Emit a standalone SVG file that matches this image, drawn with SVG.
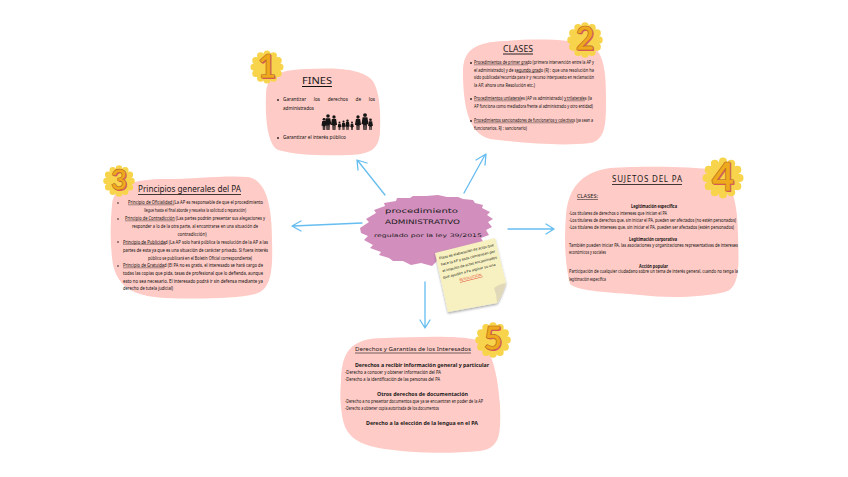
<svg xmlns="http://www.w3.org/2000/svg" width="848" height="477" viewBox="0 0 848 477">
<style>
.blob{fill:#ffcbc6}
.t{font-family:"Noto Sans","Liberation Sans",sans-serif;font-size:4.400px;fill:#111}
.b{font-weight:700}
.ul{stroke:#111;stroke-width:.4;fill:none}
.h{font-family:"Noto Sans","Liberation Sans",sans-serif;fill:#1a1a1a}
.m{text-anchor:middle}
.dot{fill:#1c1c1c}
.sc{fill:#f7d44c;stroke:#f7d44c;stroke-linecap:round}
.n{font-family:"Lato","Liberation Sans",sans-serif;font-weight:900;text-anchor:middle}
.n1{fill:#e2566b}
.n2{fill:#eeaa1c;stroke:#b8642a;stroke-width:.6px}
.c{font-family:"DejaVu Sans",sans-serif;fill:#1a1a1a}
.arr{fill:none;stroke:#66bdf0;stroke-width:1.300;stroke-linecap:round;stroke-linejoin:round}
.fam{fill:#151515}
</style>
<defs>
<filter id="sh" x="-10%" y="-10%" width="125%" height="125%"><feDropShadow dx="0" dy="1.500" stdDeviation="1" flood-color="#000" flood-opacity=".35"/></filter>
<g id="p"><circle cx="0" cy="-9.300" r="1.200"/><path d="M-1.500-7.900H1.500L2.200-3.600H1.200L1 0H.2V-3H-.2V0H-1L-1.200-3.600H-2.200Z"/></g>
</defs>
<rect width="848" height="477" fill="#fff"/>
<g id="connectors">
<path class="arr" d="M385 195L358 161M358 170L357 160L367 163"/>
<path class="arr" d="M464 193L485 155M476 160L486 154L485 165"/>
<path class="arr" d="M362 223L293 226M301 221L292 226L301 231"/>
<path class="arr" d="M508 229L553 229M546 224L554 229L546 234"/>
<path class="arr" d="M425 282L425 327M420 320L425 328L430 320"/>
</g>
<g id="center">
<polygon fill="#d28fbd" points="360,228 369,222 366,219 376,213 374,210 385,206 384,203 396,201 397,198 410,198 413,196 426,196 438,195 447,197 458,197 463,199 473,200 475,203 483,205 482,208 490,212 487,215 493,219 488,222 492,227 486,230 489,235 481,238 484,243 470,247 466,252 452,255 449,259 437,261 432,266 421,263 411,265 403,261 393,261 389,258 379,255 381,252 370,248 373,245 364,240 368,236 361,233"/>
<text class="c" x="385" y="213" font-size="6.400" textLength="73" lengthAdjust="spacingAndGlyphs">procedimiento</text>
<text class="c" x="385" y="224" font-size="6.200" textLength="75" lengthAdjust="spacingAndGlyphs">ADMINISTRATIVO</text>
<text class="c" x="374" y="237" font-size="4.800" textLength="108" lengthAdjust="spacingAndGlyphs">regulado por la ley 39/2015</text>
</g>
<g id="note">
<path fill="#f7f1c1" filter="url(#sh)" d="M435 253L495 238L506 283Q500 300 497 303L448 312Z"/>
<path fill="#e0d8b8" d="M506 283Q499 284 494 288Q497 295 497 303Q503 295 506 283Z"/>
<g transform="rotate(-14 442 261)">
<text class="t m" style="font-size:3.600px" x="468" y="259" textLength="56" lengthAdjust="spacingAndGlyphs">Plazo de elaboración de actos que</text>
<text class="t m" style="font-size:3.600px" x="468" y="265.500" textLength="56" lengthAdjust="spacingAndGlyphs">hace la AP y esos comienzan por</text>
<text class="t m" style="font-size:3.600px" x="468" y="272" textLength="56" lengthAdjust="spacingAndGlyphs">el impulso de actos encaminados</text>
<text class="t m" style="font-size:3.600px" x="466" y="278.500" textLength="54" lengthAdjust="spacingAndGlyphs">que ayudan a Pa aspirar su una</text>
<text class="t m" style="font-size:3.600px;fill:#e8452f;text-decoration:underline" x="466" y="285">RESOLUCIÓN.</text>
</g>
</g>
<g id="node1">
<path class="blob" d="M266 95C266 76 278 70 305 69C330 68 360 67 372 80C380 90 381 115 380 132C379 148 372 154 350 155C325 156 295 155 278 150C268 145 265 120 266 95Z"/>
<text class="h m" x="317" y="84" font-size="9.500" textLength="30" lengthAdjust="spacingAndGlyphs">FINES</text>
<path d="M302 86.500H332" stroke="#111" stroke-width="1"/>
<circle class="dot" cx="278" cy="100" r=".9"/>
<text class="t" x="283" y="101" textLength="92" lengthAdjust="spacingAndGlyphs" style="word-spacing:6px">Garantizar los derechos de los</text>
<text class="t" x="283" y="110" textLength="31" lengthAdjust="spacingAndGlyphs">administrados</text>
<g class="fam">
<use href="#p" transform="translate(324 130) scale(1.150)"/>
<use href="#p" transform="translate(328 130) scale(1.500)"/>
<use href="#p" transform="translate(334 130) scale(1.400)"/>
<use href="#p" transform="translate(339.500 130) scale(.8)"/>
<use href="#p" transform="translate(343.500 130) scale(.9)"/>
<use href="#p" transform="translate(347.500 130) scale(1)"/>
<use href="#p" transform="translate(352 130) scale(.8)"/>
<use href="#p" transform="translate(358 130) scale(1.400)"/>
<use href="#p" transform="translate(365 130) scale(1.600)"/>
<use href="#p" transform="translate(370.500 130) scale(1.100)"/>
</g>
<circle class="dot" cx="278" cy="138" r=".9"/>
<text class="t" x="283" y="139" textLength="63" lengthAdjust="spacingAndGlyphs">Garantizar el interés público</text>
</g>
<g id="badge1">
<circle class="sc" cx="267" cy="67" r="13" stroke-width="7" pathLength="12" stroke-dasharray="0 1"/>
<text class="n n1" x="268" y="79" font-size="32">1</text><text class="n n2" x="267" y="78" font-size="32">1</text>
</g>
<g id="node2">
<path class="blob" d="M463 72C463 50 475 42 505 41C530 39 570 38 592 46C604 52 606 75 606 95C606 120 607 140 590 143C565 146 530 144 490 139C470 134 463 110 463 72Z"/>
<text class="h m" x="518" y="52" font-size="8.500" textLength="30" lengthAdjust="spacingAndGlyphs">CLASES</text>
<path d="M503 54H533" stroke="#111" stroke-width=".9"/>
<circle class="dot" cx="471" cy="63" r=".9"/>
<text class="t" x="474" y="64" textLength="120" lengthAdjust="spacingAndGlyphs">Procedimientos de primer grado (primera intervención entre la AP y</text>
<text class="t" x="474" y="71.500" textLength="120" lengthAdjust="spacingAndGlyphs">el administrado) y de segundo grado (RJ : que una resolución ha</text>
<text class="t" x="474" y="79" textLength="120" lengthAdjust="spacingAndGlyphs">sido publicada/recurrida para ir y recurso interpuesto en reclamación</text>
<text class="t" x="474" y="86.500" textLength="61" lengthAdjust="spacingAndGlyphs">la AP, ahora una Resolución etc.)</text>
<circle class="dot" cx="471" cy="99" r=".9"/>
<text class="t" x="474" y="100" textLength="118" lengthAdjust="spacingAndGlyphs">Procedimientos unilaterales (AP vs administrado) y trilaterales (la</text>
<text class="t" x="474" y="107.500" textLength="119" lengthAdjust="spacingAndGlyphs">AP funciona como mediadora frente al administrado y otro entidad)</text>
<circle class="dot" cx="471" cy="121" r=".9"/>
<text class="t" x="474" y="122" textLength="119" lengthAdjust="spacingAndGlyphs">Procedimientos sancionadores de funcionarios y colectivos (ya sean a</text>
<text class="t" x="474" y="130" textLength="53" lengthAdjust="spacingAndGlyphs">funcionarios, RJ : sancionarlo)</text>
<path class="ul" d="M474 64.800H528M516 72.300H541M474 100.800H521.500M564 100.800H585M474 122.800H574"/>
</g>
<g id="badge2">
<circle class="sc" cx="585" cy="40" r="14" stroke-width="7.500" pathLength="12" stroke-dasharray="0 1"/>
<text class="n n1" x="586" y="51" font-size="32">2</text><text class="n n2" x="585" y="50" font-size="32">2</text>
</g>
<g id="node3">
<path class="blob" d="M112 205C113 185 135 179 165 179C195 179 225 175 248 177C266 180 272 205 272 240C273 272 271 290 255 294C235 299 195 299 165 298C130 296 118 285 113 265C110 245 110 225 112 205Z"/>
<text class="h" x="138" y="192" font-size="9" textLength="103" lengthAdjust="spacingAndGlyphs">Principios generales del PA</text>
<path d="M138 194.500H241" stroke="#111" stroke-width=".8"/>
<circle class="dot" cx="118" cy="203" r=".8"/>
<text class="t" x="128" y="204" textLength="135" lengthAdjust="spacingAndGlyphs">Principio de Oficialidad (La AP es responsable de que el procedimiento</text>
<text class="t" x="144" y="212" textLength="102" lengthAdjust="spacingAndGlyphs">llegue hasta el final aborde y resuelva la solicitud o reparación)</text>
<circle class="dot" cx="118" cy="219" r=".8"/>
<text class="t" x="125" y="220" textLength="140" lengthAdjust="spacingAndGlyphs">Principio de Contradicción (Las partes podrán presentar sus alegaciones y</text>
<text class="t" x="132" y="228" textLength="126" lengthAdjust="spacingAndGlyphs">responder a lo de la otra parte, al encontrarse en una situación de</text>
<text class="t m" x="192" y="235.500" textLength="29" lengthAdjust="spacingAndGlyphs">contradicción)</text>
<circle class="dot" cx="118" cy="242" r=".8"/>
<text class="t" x="123" y="243.500" textLength="145" lengthAdjust="spacingAndGlyphs">Principio de Publicidad (La AP solo hará pública la resolución de la AP a las</text>
<text class="t" x="123" y="251.500" textLength="145" lengthAdjust="spacingAndGlyphs">partes de esta ya que es una situación de carácter privado. Si fuera interés</text>
<text class="t" x="148" y="259.500" textLength="104" lengthAdjust="spacingAndGlyphs">público se publicará en el Boletín Oficial correspondiente)</text>
<circle class="dot" cx="118" cy="266" r=".8"/>
<text class="t" x="123" y="267" textLength="140" lengthAdjust="spacingAndGlyphs">Principio de Gratuidad (El PA no es gratis, el interesado se hará cargo de</text>
<text class="t" x="123" y="275" textLength="140" lengthAdjust="spacingAndGlyphs">todas las copias que pida, tasas de profesional que lo defienda, aunque</text>
<text class="t" x="123" y="282.500" textLength="140" lengthAdjust="spacingAndGlyphs">esto no sea necesario. El interesado podrá ir sin defensa mediante ya</text>
<text class="t" x="123" y="290" textLength="50" lengthAdjust="spacingAndGlyphs">derecho de tutela judicial)</text>
<path class="ul" d="M128 204.800H174M125 220.800H175M123 244.300H166M123 267.800H164.500"/>
</g>
<g id="badge3">
<circle class="sc" cx="119" cy="181" r="12.500" stroke-width="6.500" pathLength="12" stroke-dasharray="0 1"/>
<text class="n n1" x="120" y="191" font-size="28">3</text><text class="n n2" x="119" y="190" font-size="28">3</text>
</g>
<g id="node4">
<path class="blob" d="M566 215C568 190 580 172 610 168C640 166 690 166 715 170C732 178 738 205 738 235C739 265 740 288 725 292C700 298 665 298 640 295C610 292 580 292 570 284C565 265 564 240 566 215Z"/>
<text class="h" x="612" y="182" font-size="8" textLength="70" lengthAdjust="spacing">SUJETOS DEL PA</text>
<path d="M612 184.500H682" stroke="#111" stroke-width=".8"/>
<text class="h" x="577" y="198" font-size="5.400" textLength="21" lengthAdjust="spacingAndGlyphs" style="text-decoration:underline">CLASES:</text>
<text class="t b" x="631" y="208" textLength="46" lengthAdjust="spacingAndGlyphs">Legitimación específica</text>
<text class="t" x="569" y="215" textLength="98" lengthAdjust="spacingAndGlyphs">-Los titulares de derechos o intereses que inician el PA</text>
<text class="t" x="569" y="222" textLength="167" lengthAdjust="spacingAndGlyphs">-Los titulares de derechos que, sin iniciar el PA, pueden ser afectados (no estén personados)</text>
<text class="t" x="569" y="229" textLength="165" lengthAdjust="spacingAndGlyphs">-Los titulares de intereses que, sin iniciar el PA, pueden ser afectados (estén personados)</text>
<text class="t b" x="629" y="241" textLength="48" lengthAdjust="spacingAndGlyphs">Legitimación corporativa</text>
<text class="t" x="569" y="246.500" textLength="169" lengthAdjust="spacingAndGlyphs">También pueden iniciar PA. las asociaciones y organizaciones representativas de intereses</text>
<text class="t" x="569" y="254" textLength="37" lengthAdjust="spacingAndGlyphs">económicos y sociales</text>
<text class="t b" x="639" y="267.500" textLength="29" lengthAdjust="spacingAndGlyphs">Acción popular</text>
<text class="t" x="569" y="273" textLength="169" lengthAdjust="spacingAndGlyphs">Participación de cualquier ciudadano sobre un tema de interés general, cuando no tenga la</text>
<text class="t" x="569" y="281" textLength="37" lengthAdjust="spacingAndGlyphs">legitimación específica</text>
</g>
<g id="badge4">
<circle class="sc" cx="723" cy="178" r="16.500" stroke-width="8" pathLength="12" stroke-dasharray="0 1"/>
<text class="n n1" x="724" y="192" font-size="39">4</text><text class="n n2" x="723" y="191" font-size="39">4</text>
</g>
<g id="node5">
<path class="blob" d="M341 380C342 350 352 338 385 338C420 337 455 335 478 340C494 350 498 380 500 405C501 435 500 448 480 451C450 454 410 453 385 449C358 445 345 437 342 415C340 400 340 395 341 380Z"/>
<text class="h" x="355" y="351" font-size="6" textLength="116" lengthAdjust="spacingAndGlyphs">Derechos y Garantías de los Interesados</text>
<path d="M355 353H471" stroke="#111" stroke-width=".6"/>
<text class="h b" x="355" y="367" font-size="5.600" textLength="134" lengthAdjust="spacingAndGlyphs">Derechos a recibir información general y particular</text>
<text class="t" x="345" y="373.500" textLength="96" lengthAdjust="spacingAndGlyphs">-Derecho a conocer y obtener información del PA</text>
<text class="t" x="345" y="381" textLength="95" lengthAdjust="spacingAndGlyphs">-Derecho a la identificación de las personas del PA</text>
<text class="h b" x="377" y="396" font-size="5.600" textLength="91" lengthAdjust="spacingAndGlyphs">Otros derechos de documentación</text>
<text class="t" x="345" y="402.500" textLength="138" lengthAdjust="spacingAndGlyphs">-Derecho a no presentar documentos que ya se encuentran en poder de la AP</text>
<text class="t" x="345" y="410" textLength="94" lengthAdjust="spacingAndGlyphs">-Derecho a obtener copia autorizada de los documentos</text>
<text class="h b" x="366" y="425" font-size="5.600" textLength="112" lengthAdjust="spacingAndGlyphs">Derecho a la elección de la lengua en el PA</text>
</g>
<g id="badge5">
<circle class="sc" cx="493" cy="340" r="14" stroke-width="7.500" pathLength="12" stroke-dasharray="0 1"/>
<text class="n n1" x="494" y="351" font-size="32">5</text><text class="n n2" x="493" y="350" font-size="32">5</text>
</g>
</svg>
